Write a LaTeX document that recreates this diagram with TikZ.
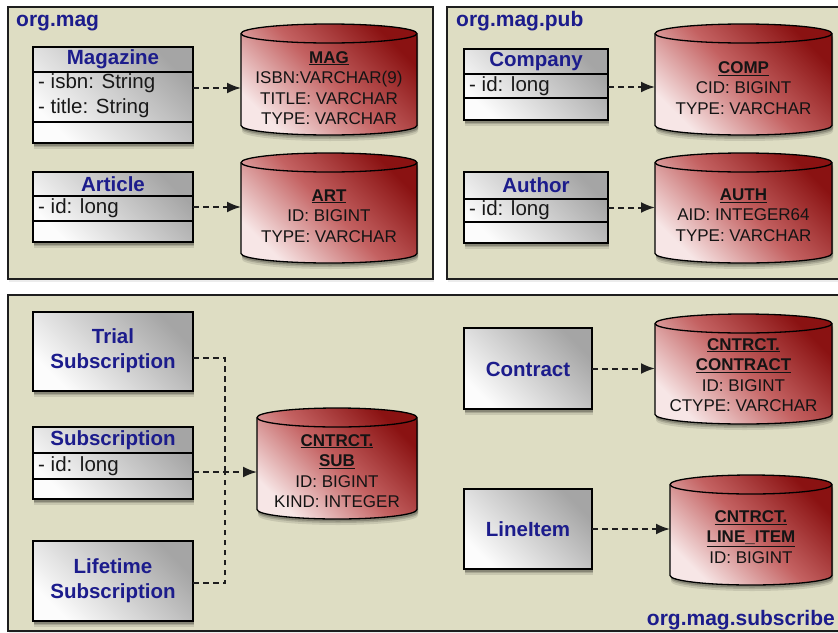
\documentclass[tikz,border=0pt]{standalone}
\usepackage{fontspec}
\setmainfont{Liberation Sans}
\usetikzlibrary{shadows,arrows.meta}
\definecolor{panelbg}{RGB}{222,221,195}
\definecolor{navy}{RGB}{28,28,140}
\definecolor{cyldark}{RGB}{138,18,18}
\definecolor{cylmid}{RGB}{196,98,98}
\definecolor{cyllight}{RGB}{247,230,230}
\definecolor{gdark}{RGB}{165,165,165}
\definecolor{glight}{RGB}{252,252,252}
\definecolor{ink}{RGB}{30,30,30}
\tikzset{
  panel/.style={draw=ink, line width=1.5pt, fill=panelbg,
    drop shadow={shadow xshift=1pt, shadow yshift=-3pt, opacity=0.15}},
  plabel/.style={font=\fontsize{21}{24}\selectfont\bfseries, text=navy, inner sep=0pt},
  softshadow/.style={
    preaction={fill=black, opacity=0.10, transform canvas={xshift=1pt, yshift=-6pt}},
    preaction={fill=black, opacity=0.15, transform canvas={xshift=1pt, yshift=-4pt}},
    preaction={fill=black, opacity=0.20, transform canvas={xshift=1pt, yshift=-2.5pt}}},
  classbox/.style={draw=black, line width=1.4pt, top color=gdark, bottom color=glight,
    shading angle=-45, inner sep=0pt, outer sep=0pt, softshadow},
  classline/.style={draw=black, line width=1.4pt},
  ctitle/.style={font=\fontsize{20.5}{25}\selectfont\bfseries, text=navy, align=center, inner sep=0pt},
  cattr/.style={font=\fontsize{20.5}{25}\selectfont, text=black!90, align=left, inner sep=0pt, anchor=west},
  cylbody/.style={draw=black, line width=1.3pt, top color=cyldark, bottom color=cyllight,
    middle color=cylmid, shading angle=-45, softshadow},
  cylline/.style={draw=black, line width=1.3pt},
  cyltext/.style={font=\fontsize{17}{20.5}\selectfont, text=black!92, align=center, inner sep=0pt},
  dep/.style={draw=ink, line width=2pt, dash pattern=on 5.5pt off 4.5pt,
    -{Latex[length=14pt,width=11pt]}},
  depline/.style={draw=ink, line width=2pt, dash pattern=on 5.5pt off 4.5pt},
}
\newcommand\umlbox[5]{%
  \node[classbox, anchor=north west, minimum width={(#4-#2)*1pt},
    minimum height={(#5-#3)*1pt}] (#1) at (#2,-#3) {};}
\newcommand\dbtable[7]{%
  \pgfmathsetmacro\rxx{(#4-#2)/2}%
  \path[cylbody] (#2,-#3-9.5) -- (#2,-#5+9.5)
    arc[start angle=180,end angle=360,x radius=\rxx pt,y radius=9.5pt]
    -- (#4,-#3-9.5)
    arc[start angle=0,end angle=180,x radius=\rxx pt,y radius=9.5pt] -- cycle;
  \draw[cylline] (#2,-#3-9.5)
    arc[start angle=180,end angle=360,x radius=\rxx pt,y radius=9.5pt];
  \node[inner sep=0pt, outer sep=0pt, minimum width={(#4-#2)*1pt},
    minimum height={(#5-#3)*1pt}] (#1) at ({(#2+#4)/2},{-(#3+#5)/2}) {};
  \node[cyltext] (#1-t) at ({(#2+#4)/2},-#6) {#7};}
\newcommand\tname[1]{\textbf{\underline{#1}}}
\begin{document}
\begin{tikzpicture}[x=1pt,y=1pt]
\useasboundingbox (0,0) rectangle (838,-632);
% panels
\path[panel] (8,-7) rectangle (433,-279);
\path[panel] (447,-7) rectangle (845,-279);
\path[panel] (8,-295) rectangle (845,-631);
\node[plabel, anchor=base west] (p1) at (16,-26) {org.mag};
\node[plabel, anchor=base west] (p2) at (456,-26) {org.mag.pub};
\node[plabel, anchor=base east] (p3) at (835,-625) {org.mag.subscribe};

% ---- org.mag
\umlbox{magc}{33}{47}{193}{143}
\draw[classline] (33,-72) -- (193,-72);
\draw[classline] (33,-122) -- (193,-122);
\node[ctitle] (magn) at (113,-59.5) {Magazine};
\node[cattr] (maga) at (38,-96) {- isbn: String\\- title: String};

\umlbox{artc}{33}{172}{193}{242}
\draw[classline] (33,-196) -- (193,-196);
\draw[classline] (33,-221) -- (193,-221);
\node[ctitle] (artn) at (113,-184) {Article};
\node[cattr] (arta) at (38,-208.5) {- id: long};

\dbtable{magt}{241}{24}{417}{135}{88}{\tname{MAG}\\ISBN:VARCHAR(9)\\TITLE: VARCHAR\\TYPE: VARCHAR}
\dbtable{artt}{241}{153}{417}{263}{216}{\tname{ART}\\ID: BIGINT\\TYPE: VARCHAR}

\coordinate (s1) at ([yshift=7pt]magc.east);
\draw[dep] (s1) -- (s1 -| magt.west);
\draw[dep] (artc.east) -- (artc.east -| artt.west);

% ---- org.mag.pub
\umlbox{compc}{464}{49}{608}{120}
\draw[classline] (464,-74) -- (608,-74);
\draw[classline] (464,-98) -- (608,-98);
\node[ctitle] (compn) at (536,-61.5) {Company};
\node[cattr] (compa) at (469,-86.5) {- id: long};

\umlbox{authc}{464}{172}{608}{243}
\draw[classline] (464,-199) -- (608,-199);
\draw[classline] (464,-222) -- (608,-222);
\node[ctitle] (authn) at (536,-185.5) {Author};
\node[cattr] (autha) at (469,-210.5) {- id: long};

\dbtable{compt}{655}{24}{832}{135}{88}{\tname{COMP}\\CID: BIGINT\\TYPE: VARCHAR}
\dbtable{autht}{655}{153}{832}{263}{215}{\tname{AUTH}\\AID: INTEGER64\\TYPE: VARCHAR}

\coordinate (s3) at ([yshift=-2.5pt]compc.east);
\draw[dep] (s3) -- (s3 -| compt.west);
\draw[dep] (authc.east) -- (authc.east -| autht.west);

% ---- org.mag.subscribe
\umlbox{trialc}{33}{312}{193}{391}
\node[ctitle] (trialn) at (113,-351) {Trial\\Subscription};

\umlbox{subc}{33}{427}{193}{499}
\draw[classline] (33,-453) -- (193,-453);
\draw[classline] (33,-479) -- (193,-479);
\node[ctitle] (subn) at (113,-440) {Subscription};
\node[cattr] (suba) at (38,-466.5) {- id: long};

\umlbox{lifec}{33}{541}{193}{621}
\node[ctitle] (lifen) at (113,-580.5) {Lifetime\\Subscription};

\dbtable{subt}{257}{408}{417}{519}{471}{\tname{CNTRCT.}\\\tname{SUB}\\ID: BIGINT\\KIND: INTEGER}

\coordinate (jn) at (225,-472);
\coordinate (s5) at ([yshift=-6.5pt]trialc.east);
\coordinate (s6) at ([yshift=-9pt]subc.east);
\coordinate (s7) at ([yshift=-2pt]lifec.east);
\draw[depline] (s5) -| (jn);
\draw[depline] (s7) -| (jn);
\draw[dep] (s6) -- (s6 -| subt.west);

\umlbox{contc}{464}{328}{592}{409}
\node[ctitle] (contn) at (528,-369) {Contract};
\umlbox{linec}{464}{489}{592}{569}
\node[ctitle] (linen) at (528,-529) {LineItem};

\dbtable{contt}{655}{314}{832}{424}{375}{\tname{CNTRCT.}\\\tname{CONTRACT}\\ID: BIGINT\\CTYPE: VARCHAR}
\dbtable{linet}{670}{475}{832}{585}{537}{\tname{CNTRCT.}\\\tname{LINE\_ITEM}\\ID: BIGINT}

\draw[dep] (contc.east) -- (contc.east -| contt.west);
\draw[dep] (linec.east) -- (linec.east -| linet.west);
\end{tikzpicture}
\end{document}
